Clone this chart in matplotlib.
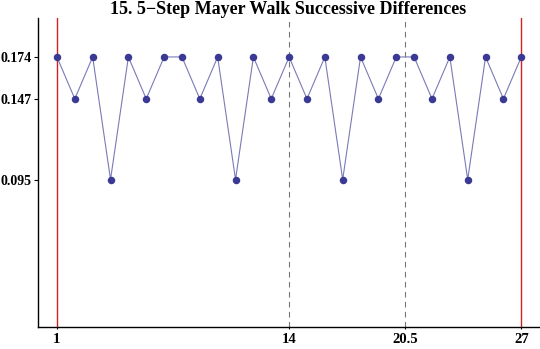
import matplotlib.pyplot as plt

plt.rcParams['font.family'] = ['Liberation Serif', 'DejaVu Serif']

# successive differences of the 5-step walk
steps = list(range(1, 28))
diffs = [0.174, 0.147, 0.174, 0.095, 0.174, 0.147, 0.174, 0.174, 0.147,
         0.174, 0.095, 0.174, 0.147, 0.174, 0.147, 0.174, 0.095, 0.174,
         0.147, 0.174, 0.174, 0.147, 0.174, 0.095, 0.174, 0.147, 0.174]
red_marks = [1, 27]
dash_marks = [14, 20.5]
x_ticks = [1, 14, 20.5, 27]
y_ticks = [0.095, 0.147, 0.174]

fig = plt.figure(figsize=(5.4, 3.49), dpi=100)
ax = fig.add_axes([0.0704, 0.063, 0.928, 0.885])

for x in red_marks:
    ax.axvline(x, color='#d42020', lw=1.0, zorder=1)
for x in dash_marks:
    ax.axvline(x, color='#777777', lw=0.8, ls=(0, (5, 4)), zorder=1)

ax.plot(steps, diffs, color='#7a7ab8', lw=0.8, zorder=2)
ax.plot(steps, diffs, 'o', color='#3a3a95', ms=5.4, mec='none', zorder=3)

ax.set_xlim(-0.06, 28.0)
ax.set_ylim(0, 0.199)
ax.set_xticks(x_ticks)
ax.set_xticklabels(['1', '14', '20.5', '27'])
ax.set_yticks(y_ticks)
ax.set_yticklabels([f'{v:.3f}' for v in y_ticks])

for lab in ax.get_xticklabels():
    lab.set_fontweight('bold')
    lab.set_fontsize(10.5)
for lab in ax.get_yticklabels():
    lab.set_fontweight('bold')
    lab.set_fontsize(10)
ax.tick_params(axis='y', direction='out', length=3, width=0.8, pad=1.5)
ax.tick_params(axis='x', direction='out', length=1.5, width=0.8, pad=3)

ax.spines['top'].set_visible(False)
ax.spines['right'].set_visible(False)
ax.spines['left'].set_linewidth(1.0)
ax.spines['bottom'].set_linewidth(1.0)

ax.set_title('15. 5\u2212Step Mayer Walk Successive Differences',
             fontsize=13, fontweight='bold', pad=2)

fig.savefig('out.png', dpi=100)
